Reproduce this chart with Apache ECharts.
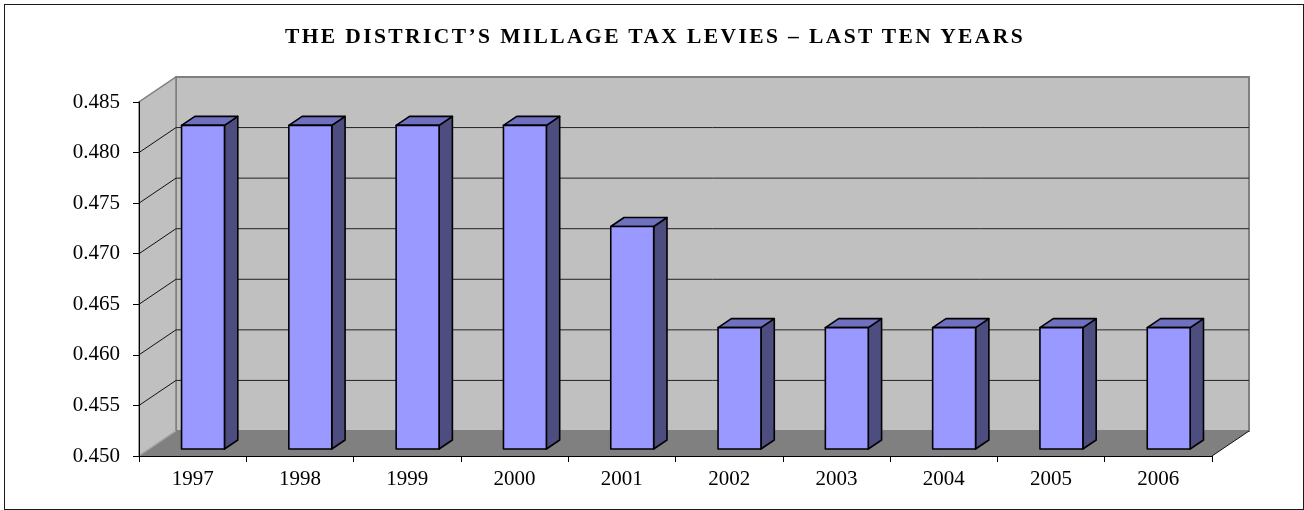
<!DOCTYPE html>
<html>
<head>
<meta charset="utf-8">
<script src="https://cdn.jsdelivr.net/npm/echarts@6/dist/echarts.min.js"></script>
<style>
  html, body { margin: 0; padding: 0; background: #fff; }
  #wrap { position: relative; width: 1304px; height: 510px; overflow: hidden; }
  #chart { position: absolute; left: 0; top: 0; width: 1304px; height: 510px; }
  #frame { position: absolute; left: 4px; top: 4px; width: 1300px; height: 506px; box-sizing: border-box; border: 1px solid #1a1a1a; pointer-events: none; }
  #title { position: absolute; left: 0; top: 25px; width: 1304px; padding-left: 6px; box-sizing: border-box; text-align: center;
           font-family: 'Liberation Serif', 'Times New Roman', serif; font-weight: bold; font-size: 21.5px; line-height: 22px;
           letter-spacing: 2.4px; color: #000; white-space: nowrap; }
</style>
</head>
<body>
<div id="wrap">
  <div id="chart"></div>
  <div id="frame"></div>
  <div id="title">THE DISTRICT’S MILLAGE TAX LEVIES – LAST TEN YEARS</div>
</div>
<script>
// ---- data ----
const categories = ['1997', '1998', '1999', '2000', '2001', '2002', '2003', '2004', '2005', '2006'];
const levies = [0.482, 0.482, 0.482, 0.482, 0.472, 0.462, 0.462, 0.462, 0.462, 0.462];
const Y_MIN = 0.450;
const Y_MAX = 0.485;
const Y_STEP = 0.005;

// ---- 3D look ----
const DX = 37, DY = -25;      // depth offset of back wall
const F0 = 0.28, F1 = 0.64;   // bar depth span (fraction of depth)
const BAR_W = 0.4;            // bar width as fraction of category band

const chart = echarts.init(document.getElementById('chart'), null, { renderer: 'canvas' });

function wallsItem(params, api) {
  const cs = params.coordSys;
  const x0 = cs.x, x1 = cs.x + cs.width;
  const yTop = api.coord([0, Y_MAX])[1];
  const yBot = api.coord([0, Y_MIN])[1];
  const ch = [];
  // back wall
  ch.push({ type: 'polygon', shape: { points: [[x0 + DX, yTop + DY], [x1 + DX, yTop + DY], [x1 + DX, yBot + DY], [x0 + DX, yBot + DY]] },
            style: { fill: '#C0C0C0', stroke: '#808080', lineWidth: 2 } });
  // left wall
  ch.push({ type: 'polygon', shape: { points: [[x0, yBot], [x0 + DX, yBot + DY], [x0 + DX, yTop + DY], [x0, yTop]] },
            style: { fill: '#C0C0C0', stroke: '#808080', lineWidth: 1.5 } });
  // floor
  ch.push({ type: 'polygon', shape: { points: [[x0, yBot], [x1, yBot], [x1 + DX, yBot + DY], [x0 + DX, yBot + DY]] },
            style: { fill: '#808080', stroke: null } });
  ch.push({ type: 'line', shape: { x1: x1, y1: yBot, x2: x1 + DX, y2: yBot + DY }, style: { stroke: '#111', lineWidth: 1 } });
  ch.push({ type: 'line', shape: { x1: x0, y1: yBot, x2: x0 + DX, y2: yBot + DY }, style: { stroke: '#b0b0b0', lineWidth: 1 } });
  // gridlines
  const n = Math.round((Y_MAX - Y_MIN) / Y_STEP);
  for (let k = 1; k < n; k++) {
    const y = api.coord([0, Y_MIN + k * Y_STEP])[1];
    ch.push({ type: 'line', shape: { x1: x0 + DX, y1: y + DY, x2: x1 + DX, y2: y + DY }, style: { stroke: '#222', lineWidth: 1 } });
    ch.push({ type: 'line', shape: { x1: x0, y1: y, x2: x0 + DX, y2: y + DY }, style: { stroke: '#111', lineWidth: 1 } });
  }
  return { type: 'group', children: ch };
}

function barItem(params, api) {
  const i = api.value(0), v = api.value(1);
  const top = api.coord([i, v]);
  const base = api.coord([i, Y_MIN]);
  const bw = api.size([1, 0])[0];
  const fx = top[0] + F0 * DX, hw = BAR_W * bw / 2;
  const xl = fx - hw, xr = fx + hw;
  const yt = top[1] + F0 * DY, yb = base[1] + F0 * DY;
  const ddx = (F1 - F0) * DX, ddy = (F1 - F0) * DY;
  const st = { stroke: '#000', lineWidth: 1.6, lineJoin: 'round' };
  return {
    type: 'group',
    children: [
      { type: 'polygon', shape: { points: [[xr, yt], [xr + ddx, yt + ddy], [xr + ddx, yb + ddy], [xr, yb]] },
        style: Object.assign({ fill: '#4D4D80' }, st) },
      { type: 'polygon', shape: { points: [[xl, yt], [xr, yt], [xr + ddx, yt + ddy], [xl + ddx, yt + ddy]] },
        style: Object.assign({ fill: '#7070C0' }, st) },
      { type: 'polygon', shape: { points: [[xl, yt], [xr, yt], [xr, yb], [xl, yb]] },
        style: Object.assign({ fill: '#9999FF' }, st) }
    ]
  };
}

const labelFont = "'Liberation Serif', 'Times New Roman', serif";

chart.setOption({
  animation: false,
  backgroundColor: '#fff',
  grid: { left: 139, right: 92, top: 102, bottom: 54, containLabel: false },
  xAxis: {
    type: 'category',
    data: categories,
    boundaryGap: true,
    z: 5,
    axisLine: { show: true, lineStyle: { color: '#000', width: 1 } },
    axisTick: { show: true, length: 6, alignWithLabel: false, lineStyle: { color: '#000' } },
    axisLabel: { margin: 13, color: '#000', fontSize: 21, fontFamily: labelFont },
    splitLine: { show: false }
  },
  yAxis: {
    type: 'value',
    min: Y_MIN,
    max: Y_MAX,
    interval: Y_STEP,
    z: 5,
    axisLine: { show: true, lineStyle: { color: '#000', width: 1 } },
    axisTick: { show: true, length: 6, lineStyle: { color: '#000' } },
    axisLabel: { margin: 19, color: '#000', fontSize: 21, fontFamily: labelFont,
                 formatter: v => v.toFixed(3) },
    splitLine: { show: false }
  },
  series: [
    { type: 'custom', name: 'walls', z: 1, silent: true, clip: false,
      renderItem: wallsItem, data: [[0, Y_MIN]], encode: { x: 0, y: 1 } },
    { type: 'custom', name: 'Millage', z: 3, clip: false,
      renderItem: barItem, data: levies.map((v, i) => [i, v]), encode: { x: 0, y: 1 } }
  ]
});
</script>
</body>
</html>
